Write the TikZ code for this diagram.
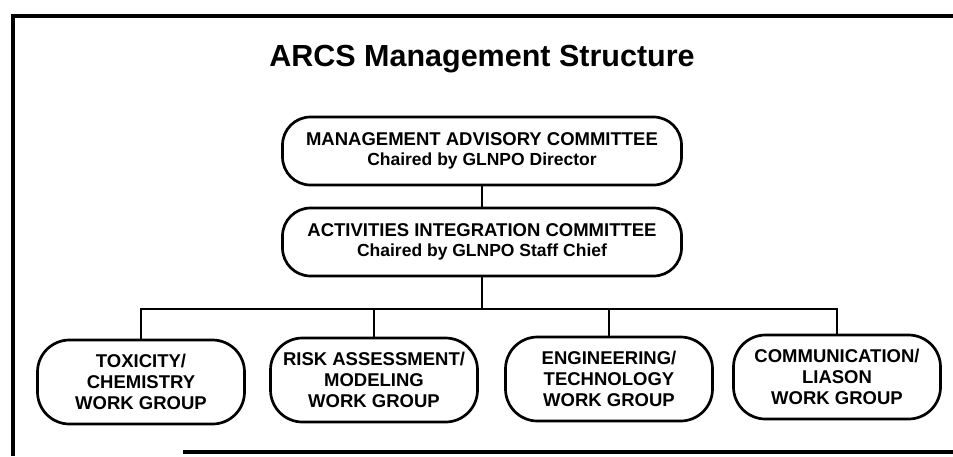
\documentclass[tikz,border=0pt]{standalone}
\usepackage{fontspec}
\setmainfont{Liberation Sans}
\usepackage{tikz}

\begin{document}
\begin{tikzpicture}[x=1pt, y=-1pt,
    frame/.style={line width=3.8pt},
    link/.style={line width=2.7pt},
    committee/.style={draw, line width=2.7pt, rounded corners=28pt, minimum width=399pt, minimum height=68pt, inner sep=0pt, align=center, font=\fontsize{18.5}{20}\selectfont\bfseries},
    group/.style={draw, line width=2.7pt, rounded corners=32pt, minimum width=207pt, minimum height=84pt, inner sep=0pt, align=center, font=\fontsize{18.5}{21}\selectfont\bfseries}]
    % Page
    \useasboundingbox (0,0) rectangle (953,456);

    % Frame
    \draw[frame] (953,16) -- (13,16) -- (13,456);
    \draw[frame] (183,452) -- (953,452);

    % Title
    \node[anchor=base, font=\fontsize{30.5}{36}\selectfont\bfseries] (title) at (482,66) {ARCS Management Structure};

    % Committees
    \node[committee] (mac) at (482,151) {MANAGEMENT ADVISORY COMMITTEE\\ {\fontsize{17.5}{20}\selectfont Chaired by GLNPO Director}};
    \node[committee] (aic) at (482,242) {ACTIVITIES INTEGRATION COMMITTEE\\ {\fontsize{17.5}{20}\selectfont Chaired by GLNPO Staff Chief}};

    % Work groups
    \node[group] (tox) at (141,382) {TOXICITY/\\ CHEMISTRY\\ WORK GROUP};
    \node[group] (risk) at (374,380) {RISK ASSESSMENT/\\ MODELING\\ WORK GROUP};
    \node[group] (eng) at (609,379) {ENGINEERING/\\ TECHNOLOGY\\ WORK GROUP};
    \node[group] (comm) at (837,377) {COMMUNICATION/\\ LIASON\\ WORK GROUP};

    % Lines
    \coordinate (bus) at (482,309);
    \draw[link] (mac) -- (aic);
    \foreach \g in {tox, risk, eng, comm}
        \draw[link] (aic.south) -- (aic.south |- bus) -| (\g.north);
\end{tikzpicture}
\end{document}
